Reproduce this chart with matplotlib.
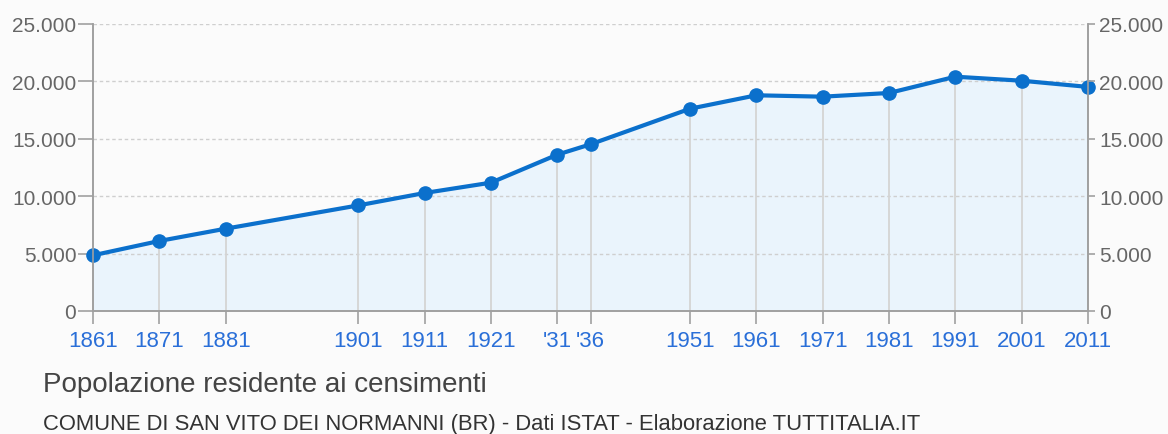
import matplotlib
matplotlib.use("Agg")
import matplotlib.pyplot as plt
import numpy as np

# census years and resident population
years = [1861, 1871, 1881, 1901, 1911, 1921, 1931, 1936,
         1951, 1961, 1971, 1981, 1991, 2001, 2011]
population = [4850, 6100, 7170, 9200, 10280, 11180, 13620, 14520,
              17620, 18790, 18670, 18990, 20410, 20060, 19520]
year_labels = ["1861", "1871", "1881", "1901", "1911", "1921", "'31", "'36",
               "1951", "1961", "1971", "1981", "1991", "2001", "2011"]
y_ticks = [0, 5000, 10000, 15000, 20000, 25000]
y_labels = ["0", "5.000", "10.000", "15.000", "20.000", "25.000"]

title = "Popolazione residente ai censimenti"
subtitle = "COMUNE DI SAN VITO DEI NORMANNI (BR) - Dati ISTAT - Elaborazione TUTTITALIA.IT"

BG = "#fbfbfb"
LINE = "#0b70cc"
FILL = "#eaf4fc"
AXIS = "#a0a0a0"
TICK_BLUE = "#2a6fd8"
GREY_TXT = "#666666"

plt.rcParams["font.family"] = ["Liberation Sans", "DejaVu Sans"]

fig = plt.figure(figsize=(11.68, 4.35), dpi=100, facecolor=BG)
ax = fig.add_axes([93 / 1168, 1 - 312 / 435, (1088 - 93) / 1168, (312 - 25) / 435])
ax.set_facecolor(BG)

ax.fill_between(years, population, 0, color=FILL, zorder=1)
# vertical guides stop at the data points
ax.vlines(years, 0, population, color="#d4d4d4", lw=1.3, zorder=2)
for v in y_ticks[1:]:
    ax.axhline(v, color="#cfcfcf", lw=1.0, ls=(0, (2.5, 2)), zorder=1.5)
ax.plot(years, population, color=LINE, lw=3, marker="o", ms=9.5, zorder=4,
        clip_on=False)

ax.set_xlim(years[0], years[-1])
ax.set_ylim(0, 25000)

ax.set_xticks(years)
ax.set_xticklabels(year_labels)
ax.tick_params(axis="x", length=9, width=1.2, color=AXIS, pad=5,
               labelsize=16, labelcolor=TICK_BLUE)

ax.set_yticks(y_ticks)
ax.set_yticklabels(y_labels)
ax.tick_params(axis="y", length=11, width=1.2, color=AXIS, pad=1,
               labelsize=15, labelcolor=GREY_TXT)

ax2 = ax.twinx()
ax2.set_ylim(0, 25000)
ax2.set_yticks(y_ticks)
ax2.set_yticklabels(y_labels)
ax2.tick_params(axis="y", length=5, width=1.2, color=AXIS, pad=3,
                labelsize=15, labelcolor=GREY_TXT)

for a in (ax, ax2):
    a.spines["top"].set_visible(False)
    for side in ("left", "right", "bottom"):
        a.spines[side].set_color(AXIS)
        a.spines[side].set_linewidth(1.2)

fig.text(43 / 1168, 1 - 392 / 435, title, fontsize=20, color="#444444",
         ha="left", va="baseline")
fig.text(43 / 1168, 1 - 430 / 435, subtitle, fontsize=15.8, color="#333333",
         ha="left", va="baseline")

fig.savefig("out.png", dpi=100, facecolor=BG)
